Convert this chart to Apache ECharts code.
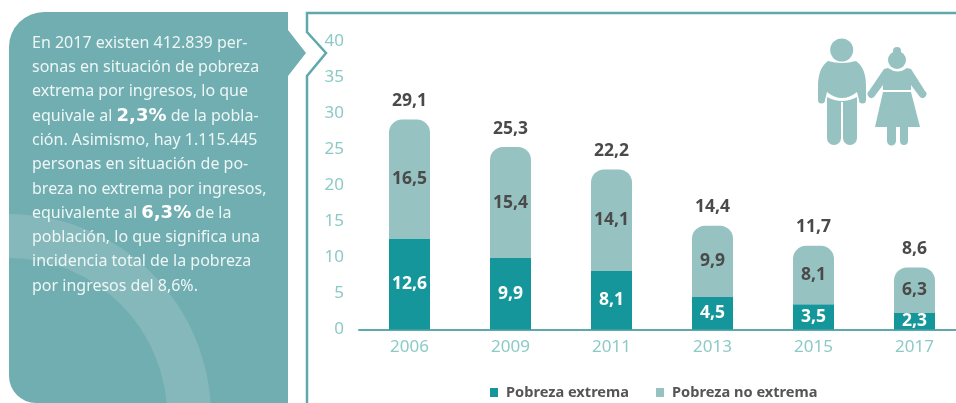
<!DOCTYPE html>
<html>
<head>
<meta charset="utf-8">
<style>
    html, body { margin: 0; padding: 0; background: #fff; }
    #chart_1 { width: 956px; height: 403px; }
</style>
<script src="https://cdn.jsdelivr.net/npm/echarts@6/dist/echarts.min.js"></script>
</head>
<body>
<div id="chart_1"></div>
<script>
var years = ['2006', '2009', '2011', '2013', '2015', '2017'];
var pobrezaExtrema = [12.6, 9.9, 8.1, 4.5, 3.5, 2.3];
var pobrezaNoExtrema = [16.5, 15.4, 14.1, 9.9, 8.1, 6.3];
var totales = [29.1, 25.3, 22.2, 14.4, 11.7, 8.6];

var panelLines = [
    'En 2017 existen 412.839 per-',
    'sonas en situación de pobreza',
    'extrema por ingresos, lo que',
    'equivale al {b|2,3%} de la pobla-',
    'ción. Asimismo, hay 1.115.445',
    'personas en situación de po-',
    'breza no extrema por ingresos,',
    'equivalente al {b|6,3%} de la',
    'población, lo que significa una',
    'incidencia total de la pobreza',
    'por ingresos del 8,6%.'
];

var fontName = '"Noto Sans", sans-serif';
var panelColor = '#70aeb1';
var frameColor = '#5fa9ac';
var iconColor = '#96c2c2';

function coma(params) {
    return params.value.toFixed(1).replace('.', ',');
}

// formas sueltas del dibujo: panel y figuras
var shapes = {
    panel: 'M44 12 L288 12 L288 30 L306 53 L288 76 L288 403 L36 403 A27 27 0 0 1 9 376 L9 47 A35 35 0 0 1 44 12 Z',
    man: 'M828 61 Q842 65 856 61 Q866 68 866 86 L866 100 A3.5 3.5 0 0 1 859 100 L857 92 Q842 104 827 92 L825 100 A3.5 3.5 0 0 1 818 100 L818 86 Q818 68 828 61 Z',
    legs: 'M827 97 Q842 105 857 97 L857 138 A7 7 0 0 1 843 138 L843 102 L841 102 L841 138 A7 7 0 0 1 827 138 Z',
    dress: 'M888 68 Q898 75 907 68 L911 69 L925 91 A3 3 0 0 1 920 97 L911 85 L911 90 L883 90 L883 85 L874 97 A3 3 0 0 1 869 91 L884 69 Z',
    skirt: 'M883 92 L911 92 L920 127 L875 127 Z M887 127 L896 127 L896 141 A4.5 4.5 0 0 1 887 141 Z M900 127 L908 127 L908 141 A4 4 0 0 1 900 141 Z'
};
for (var key in shapes) {
    echarts.graphic.registerShape(key, echarts.graphic.extendPath(shapes[key]));
}

var myChart = echarts.init(document.getElementById('chart_1'));
var option = {
    animation: false,
    backgroundColor: '#fff',
    textStyle: {fontFamily: fontName},
    legend: {
        data: ['Pobreza extrema', 'Pobreza no extrema'],
        left: 485,
        top: 380,
        icon: 'rect',
        itemWidth: 8,
        itemHeight: 9,
        itemGap: 27,
        selectedMode: false,
        textStyle: {color: '#555', fontSize: 14.6, fontWeight: 'bold', fontFamily: fontName, padding: [0, 0, 0, 3]}
    },
    grid: {left: 359, top: 41, width: 606, height: 288.5, outerBoundsMode: 'none'},
    xAxis: {
        type: 'category',
        data: years,
        axisLine: {lineStyle: {color: frameColor, width: 2}},
        axisTick: {show: false},
        axisLabel: {color: '#8ccac6', fontSize: 17, margin: 9, fontFamily: fontName}
    },
    yAxis: {
        type: 'value',
        min: 0,
        max: 40,
        interval: 5,
        axisLine: {show: false},
        axisTick: {show: false},
        splitLine: {show: false},
        axisLabel: {color: '#8ccac6', fontSize: 17, margin: 15, fontFamily: fontName}
    },
    series: [
        {
            name: 'Pobreza extrema',
            type: 'bar',
            stack: 'total',
            barWidth: 41,
            data: pobrezaExtrema,
            itemStyle: {color: '#15969a'},
            label: {show: true, position: 'inside', formatter: coma, color: '#fff', fontSize: 17.5, fontWeight: 'bold', fontFamily: fontName}
        },
        {
            name: 'Pobreza no extrema',
            type: 'bar',
            stack: 'total',
            barWidth: 41,
            data: pobrezaNoExtrema,
            itemStyle: {color: iconColor, borderRadius: [13, 13, 0, 0]},
            label: {show: true, position: 'inside', formatter: coma, color: '#4a4a4a', fontSize: 17.5, fontWeight: 'bold', fontFamily: fontName}
        },
        {
            // solo lleva la etiqueta del total
            name: 'Total',
            type: 'line',
            data: totales,
            symbol: 'circle',
            symbolSize: 1,
            showSymbol: true,
            itemStyle: {color: 'rgba(0,0,0,0)'},
            lineStyle: {opacity: 0},
            label: {show: true, position: 'top', distance: 9, formatter: coma, color: '#4a4a4a', fontSize: 17.5, fontWeight: 'bold', fontFamily: fontName}
        }
    ],
    graphic: [
        {type: 'panel', z: 1, style: {fill: panelColor}},
        {
            type: 'sector',
            z: 2,
            shape: {cx: 9, cy: 416, r0: 158, r: 202, startAngle: -Math.PI / 2, endAngle: 0},
            style: {fill: '#84b8ba'}
        },
        {
            type: 'text',
            z: 3,
            x: 32,
            y: 31,
            style: {
                text: panelLines.join('\n'),
                fill: '#eef6f6',
                font: '16px ' + fontName,
                lineHeight: 24.3,
                rich: {
                    b: {fill: '#fff', font: 'bold 18px "DejaVu Sans", sans-serif', lineHeight: 24.3}
                }
            }
        },
        {
            type: 'polyline',
            z: 1,
            shape: {points: [[307, 403], [307, 76], [326, 53], [307, 32], [307, 13], [956, 13]]},
            style: {stroke: frameColor, lineWidth: 2.5, fill: null}
        },
        {type: 'circle', z: 1, shape: {cx: 841.7, cy: 50, r: 11.5}, style: {fill: iconColor}},
        {type: 'man', z: 1, style: {fill: iconColor}},
        {type: 'legs', z: 1, style: {fill: iconColor}},
        {type: 'circle', z: 1, shape: {cx: 897, cy: 60, r: 9}, style: {fill: iconColor}},
        {type: 'circle', z: 1, shape: {cx: 897, cy: 51, r: 4}, style: {fill: iconColor}},
        {type: 'dress', z: 1, style: {fill: iconColor}},
        {type: 'skirt', z: 1, style: {fill: iconColor}}
    ]
};

myChart.setOption(option);
</script>
</body>
</html>
